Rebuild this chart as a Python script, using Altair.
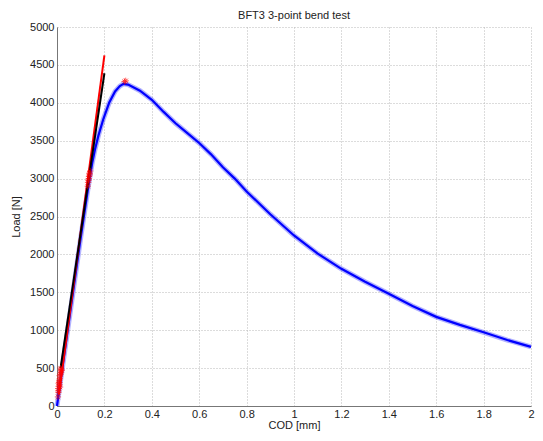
import altair as alt
import pandas as pd

# Blue measured curve (COD [mm], Load [N])
cod = [0, 0.02, 0.05, 0.1, 0.13, 0.14, 0.15, 0.16, 0.175, 0.195, 0.22, 0.245,
       0.265, 0.28, 0.3, 0.35, 0.4, 0.45, 0.5, 0.55, 0.6, 0.65, 0.7, 0.75, 0.8,
       0.9, 1.0, 1.1, 1.2, 1.3, 1.4, 1.5, 1.6, 1.7, 1.8, 1.9, 2.0]
load = [0, 445, 1110, 2220, 2850, 3050, 3230, 3380, 3570, 3780, 4000, 4150,
        4220, 4250, 4240, 4160, 4040, 3880, 3730, 3600, 3470, 3320, 3150, 3000,
        2830, 2530, 2250, 2010, 1810, 1640, 1480, 1320, 1176, 1070, 972, 870, 780]

# Red fitted line and black fitted line (endpoints)
red_x = [0.008, 0.2]
red_y = [150, 4627]
black_x = [0.015, 0.2]
black_y = [500, 4390]

# Red star markers
mark_x = [0.004, 0.006, 0.005, 0.008, 0.007, 0.01, 0.009, 0.012, 0.011, 0.014,
          0.016, 0.018, 0.015, 0.02, 0.013, 0.006, 0.01, 0.017,
          0.13, 0.133, 0.135, 0.137, 0.14, 0.134, 0.131, 0.138,
          0.285, 0.29]
mark_y = [120, 180, 230, 260, 300, 280, 340, 360, 400, 420,
          460, 480, 500, 470, 250, 200, 310, 440,
          2900, 2980, 3030, 3070, 3100, 3000, 2950, 3050,
          4280, 4290]

blue = pd.DataFrame({"x": cod, "y": load})
red = pd.DataFrame({"x": red_x, "y": red_y})
black = pd.DataFrame({"x": black_x, "y": black_y})
marks = pd.DataFrame({"x": mark_x, "y": mark_y})

xs = alt.Scale(domain=[0, 2], nice=False, zero=False)
ys = alt.Scale(domain=[0, 5000], nice=False)

xax = alt.Axis(values=[0, 0.2, 0.4, 0.6, 0.8, 1, 1.2, 1.4, 1.6, 1.8, 2],
               format="~g", title="COD [mm]")
yax = alt.Axis(values=list(range(0, 5001, 500)), format="d", title="Load [N]")

X = alt.X("x:Q", scale=xs, axis=xax)
Y = alt.Y("y:Q", scale=ys, axis=yax)

blue_band = alt.Chart(blue).mark_line(color="#0000ff", strokeWidth=5, opacity=0.3).encode(x=X, y=Y)
blue_line = alt.Chart(blue).mark_line(color="#0000ff", strokeWidth=2.2).encode(x=X, y=Y)
red_line = alt.Chart(red).mark_line(color="#ff0000", strokeWidth=2).encode(x=X, y=Y)
black_line = alt.Chart(black).mark_line(color="#000000", strokeWidth=2).encode(x=X, y=Y)
star = "M-1,0L1,0M0,-1L0,1M-0.7,-0.7L0.7,0.7M-0.7,0.7L0.7,-0.7"
red_marks = alt.Chart(marks).mark_point(shape=star, color="#ff0000", filled=False,
                                        size=40, strokeWidth=1, opacity=0.6).encode(x=X, y=Y)

chart = alt.layer(blue_band, blue_line, red_line, black_line, red_marks).properties(
    width=474, height=379,
    title=alt.TitleParams("BFT3 3-point bend test", fontSize=11, font="Liberation Sans",
                          fontWeight="normal", color="#222222", offset=0),
    autosize=alt.AutoSizeParams(type="none"),
    padding={"left": 49, "top": 19, "right": 4, "bottom": 27},
).configure_view(stroke=None).configure_axis(
    grid=True, gridColor="#b8b8b8", gridDash=[1, 2], gridWidth=1,
    domainColor="#777777", domainWidth=1, ticks=False,
    labelFont="Liberation Sans", labelFontSize=11, labelColor="#222222", labelPadding=3,
    titleFont="Liberation Sans", titleFontSize=11, titleFontWeight="normal",
    titleColor="#222222",
).configure_axisX(titlePadding=0, labelPadding=2, labelFlush=False).configure_axisY(titlePadding=8)

chart.save("out.html", embed_options={"renderer": "svg", "actions": False})
